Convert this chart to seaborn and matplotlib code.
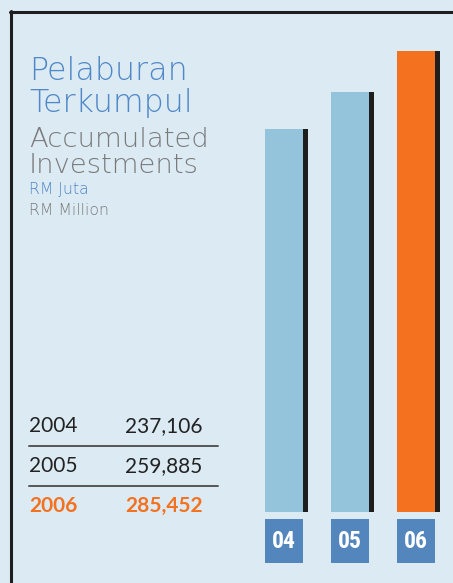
import matplotlib
matplotlib.use("Agg")
import matplotlib.pyplot as plt
import matplotlib.transforms as mtransforms
from matplotlib.patches import Rectangle
import numpy as np
import pandas as pd
import seaborn as sns

# ---- data ----
years = ["2004", "2005", "2006"]
values = [237106, 259885, 285452]
value_labels = ["237,106", "259,885", "285,452"]
bar_labels = ["04", "05", "06"]
bar_colors = ["#94c4dc", "#94c4dc", "#f4711f"]

BG = "#dbeaf3"
BLUE = "#4f87c7"
GREY = "#7a7a7a"
DARK = "#222222"
ORANGE = "#f4711f"
BOX = "#5486be"

sns.set_theme(style="white")
plt.rcParams["font.family"] = ["DejaVu Sans"]

W, H = 453, 583
fig = plt.figure(figsize=(W / 100, H / 100), dpi=100)
fig.patch.set_facecolor(BG)

def fx(px):
    return px / W

def fy(py):
    return 1 - py / H

# frame lines (top + left)
fig.add_artist(plt.Line2D([fx(10), fx(W)], [fy(11.5), fy(11.5)], color="#1e1e1e", lw=2.2))
fig.add_artist(plt.Line2D([fx(11), fx(11)], [fy(10.5), fy(H)], color="#1e1e1e", lw=2.2))

# ---- bar axes ----
px_per_unit = 0.001615
base_px = 512
ax_left_px, ax_right_px = 250, W
ax = fig.add_axes([fx(ax_left_px), fy(base_px), fx(ax_right_px - ax_left_px), base_px / H])
ax.set_facecolor("none")
spacing_px = 66
center0_px = 284
xlim = (-(center0_px - ax_left_px) / spacing_px,
        2 + (ax_right_px - (center0_px + 2 * spacing_px)) / spacing_px)
width = 38 / spacing_px
shadow_off = 5 / spacing_px

df = pd.DataFrame({"label": bar_labels, "value": values})
pos = np.arange(len(values))
ax.bar(pos + shadow_off, values, width=width, color="#1e1e1e", zorder=1, linewidth=0)
sns.barplot(data=df, x="label", y="value", hue="label", palette=bar_colors,
            width=width, legend=False, ax=ax, saturation=1, zorder=2, linewidth=0)
ax.set_xlim(*xlim)
ax.set_ylim(0, base_px / px_per_unit)
ax.axis("off")

# label boxes under bars
trans = mtransforms.blended_transform_factory(ax.transData, fig.transFigure)
for i, lab in enumerate(bar_labels):
    ax.add_patch(Rectangle((i - width / 2, fy(563)), width, (563 - 519) / H,
                           transform=trans, facecolor=BOX, edgecolor="none", clip_on=False))
    ax.text(i, fy(541), lab, transform=trans, ha="center", va="center",
            color="white", fontsize=17, fontweight="bold", fontstretch="condensed",
            family=["Roboto Condensed", "DejaVu Sans"])

# ---- title texts ----
LIGHT = dict(fontweight="light", family=["DejaVu Sans"])
fig.text(fx(29), fy(80), "Pelaburan", color=BLUE, fontsize=22.8, va="baseline", ha="left", **LIGHT)
fig.text(fx(29), fy(112), "Terkumpul", color=BLUE, fontsize=22.8, va="baseline", ha="left", **LIGHT)
fig.text(fx(29), fy(147), "Accumulated", color=GREY, fontsize=19.7, va="baseline", ha="left", **LIGHT)
fig.text(fx(29), fy(173), "Investments", color=GREY, fontsize=19.7, va="baseline", ha="left", **LIGHT)
fig.text(fx(29), fy(194), "RM Juta", color=BLUE, fontsize=11.3, va="baseline", ha="left", **LIGHT)
fig.text(fx(29), fy(215), "RM Million", color=GREY, fontsize=11.3, va="baseline", ha="left", **LIGHT)

# ---- table ----
row_base = [432, 472, 512]
BOLD = dict(fontweight="bold", family=["Lato", "DejaVu Sans"])
REG = dict(fontweight="normal", family=["Lato", "DejaVu Sans"])
for i, (yr, vl) in enumerate(zip(years, value_labels)):
    last = i == len(years) - 1
    col = ORANGE if last else DARK
    kw = BOLD if last else REG
    fig.text(fx(29), fy(row_base[i]), yr, color=col, fontsize=15,
             va="baseline", ha="left", **kw)
    fig.text(fx(125), fy(row_base[i]), vl, color=col, fontsize=15,
             va="baseline", ha="left", **kw)
for ly in [446, 486]:
    fig.add_artist(plt.Line2D([fx(29), fx(218)], [fy(ly), fy(ly)], color="#555555", lw=1.4))

fig.savefig("out.png", dpi=100, facecolor=BG)
